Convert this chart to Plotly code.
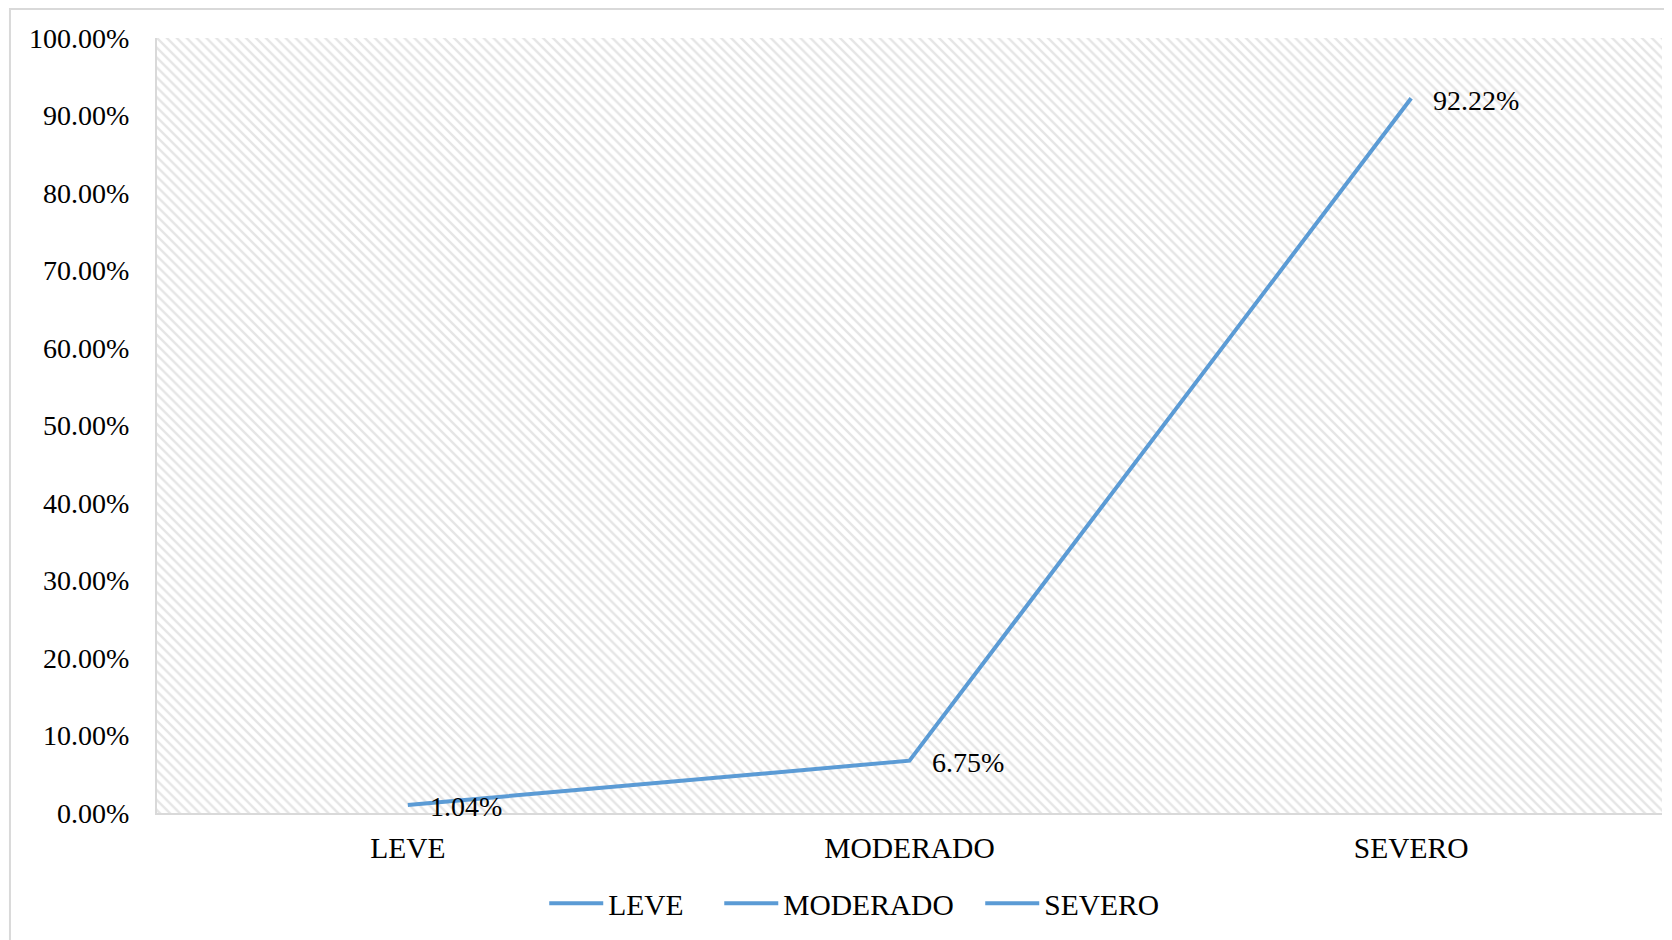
import plotly.graph_objects as go

categories = ["LEVE", "MODERADO", "SEVERO"]
values = [0.0104, 0.0675, 0.9222]
legend_names = ["LEVE", "MODERADO", "SEVERO"]
legend_x = [0.2573, 0.3736, 0.5470]
y_ticks = [i / 10 for i in range(11)]

LINE_COLOR = "#5B9BD5"
FONT = "Liberation Serif, Times New Roman, serif"

fig = go.Figure()

# hatched plot-area background on base axes (0..1 both ways)
fig.add_trace(go.Scatter(
    x=[0, 1, 1, 0, 0], y=[0, 0, 1, 1, 0], mode="none", fill="toself",
    fillcolor="rgba(0,0,0,0)",
    fillpattern=dict(shape="\\", fgcolor="#cccccc", bgcolor="white", size=7, solidity=0.35),
    hoverinfo="skip", showlegend=False, xaxis="x", yaxis="y",
))

# data line
fig.add_trace(go.Scatter(
    x=categories, y=values, mode="lines",
    line=dict(color=LINE_COLOR, width=4),
    showlegend=False, xaxis="x2", yaxis="y2",
))

# legend entries (one per category, same style), each in its own legend box
legend_layout = {}
for i, name in enumerate(legend_names):
    key = "legend" if i == 0 else f"legend{i+1}"
    fig.add_trace(go.Scatter(
        x=[categories[0]], y=[None], mode="lines", name=name,
        line=dict(color=LINE_COLOR, width=4),
        xaxis="x2", yaxis="y2", legend=key,
    ))
    legend_layout[key] = dict(orientation="h", x=legend_x[i], y=-0.117,
                              xanchor="left", yanchor="middle",
                              font=dict(size=29.5), bgcolor="rgba(0,0,0,0)",
                              itemwidth=54)

annotations = [
    dict(x=c, y=v, xref="x2", yref="y2", text=f"{v*100:.2f}%", showarrow=False,
         xanchor="left", yanchor="middle", xshift=20, yshift=-2,
         font=dict(family=FONT, size=28, color="black"))
    for c, v in zip(categories, values)
]

fig.update_layout(
    width=1664, height=932,
    margin=dict(l=149, r=10, t=30, b=127),
    paper_bgcolor="white", plot_bgcolor="white",
    font=dict(family=FONT, size=28, color="black"),
    xaxis=dict(range=[0, 1], visible=False, fixedrange=True),
    yaxis=dict(range=[0, 1], visible=False, fixedrange=True),
    xaxis2=dict(overlaying="x", type="category", range=[-0.5, 2.5],
                showline=True, linecolor="#d9d9d9", linewidth=2,
                showgrid=False, ticks="", tickfont=dict(size=29.5), anchor="y2",
                ticklabelstandoff=8),
    yaxis2=dict(overlaying="y", range=[0, 1], tickvals=y_ticks, tickformat=".2%",
                showline=True, linecolor="#d9d9d9", linewidth=2,
                showgrid=False, ticks="", zeroline=False, tickfont=dict(size=28),
                anchor="x2", ticklabelstandoff=20),
    annotations=annotations,
    shapes=[dict(type="rect", xref="paper", yref="paper",
                 x0=-0.0977, y0=-0.2, x1=1.02, y1=1.0374,
                 line=dict(color="#d9d9d9", width=2), fillcolor="rgba(0,0,0,0)",
                 layer="below")],
    **legend_layout,
)

fig.write_html("out.html")
